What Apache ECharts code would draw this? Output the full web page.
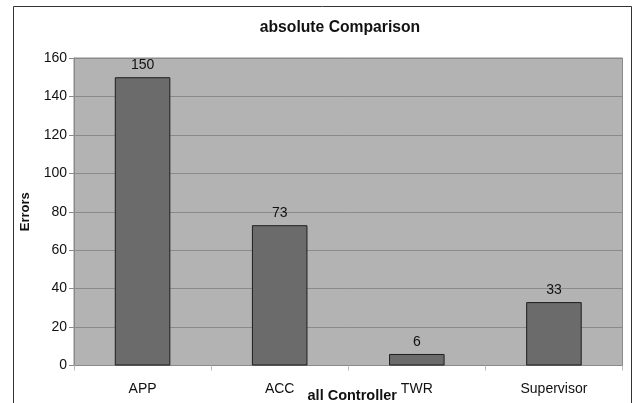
<!DOCTYPE html>
<html>
<head>
<meta charset="utf-8">
<script src="https://cdn.jsdelivr.net/npm/echarts@6/dist/echarts.min.js"></script>
<style>
  html, body { margin: 0; padding: 0; background: #fff; }
  #chart { width: 633px; height: 403px; }
</style>
</head>
<body>
<div id="chart"></div>
<script>
// Error counts per controller group
const categories = ['APP', 'ACC', 'TWR', 'Supervisor'];
const errors = [150, 73, 6, 33];
const yTicks = { min: 0, max: 160, interval: 20 };

const FONT = '"Liberation Sans", Arial, sans-serif';

const chart = echarts.init(document.getElementById('chart'), null, { renderer: 'canvas' });

chart.setOption({
  animation: false,
  backgroundColor: '#ffffff',
  title: {
    text: 'absolute Comparison',
    left: 335,
    textAlign: 'center',
    top: 15,
    textStyle: { fontFamily: FONT, fontSize: 15.7, fontWeight: 'bold', color: '#111' }
  },
  graphic: [{
    type: 'rect',
    shape: { x: 13.5, y: 6.5, width: 618, height: 420 },
    style: { fill: 'none', stroke: '#333', lineWidth: 1 },
    silent: true,
    z: 100
  }],
  grid: {
    left: 74,
    right: 10.5,
    top: 58,
    bottom: 37.5,
    outerBoundsMode: 'none',
    containLabel: false,
    show: true,
    backgroundColor: '#b3b3b3',
    borderColor: '#8a8a8a',
    borderWidth: 1
  },
  xAxis: {
    type: 'category',
    data: categories,
    name: 'all Controller',
    nameLocation: 'middle',
    nameGap: 23,
    nameMoveOverlap: false,
    nameTextStyle: { fontFamily: FONT, fontSize: 14.5, fontWeight: 'bold', color: '#111', padding: [0, 0, 0, 8] },
    axisLine: { lineStyle: { color: '#8a8a8a', width: 1 } },
    axisTick: { show: true, length: 5, alignWithLabel: false, lineStyle: { color: '#bbbbbb' } },
    axisLabel: { fontFamily: FONT, fontSize: 14, color: '#111', margin: 17 }
  },
  yAxis: {
    type: 'value',
    min: yTicks.min,
    max: yTicks.max,
    interval: yTicks.interval,
    name: 'Errors',
    nameLocation: 'middle',
    nameGap: 42,
    nameMoveOverlap: false,
    nameTextStyle: { fontFamily: FONT, fontSize: 13, fontWeight: 'bold', color: '#111' },
    axisLine: { show: true, lineStyle: { color: '#8a8a8a', width: 1 } },
    axisTick: { show: true, length: 5, lineStyle: { color: '#8a8a8a' } },
    axisLabel: { fontFamily: FONT, fontSize: 14, color: '#111', margin: 7 },
    splitLine: { show: true, lineStyle: { color: '#8a8a8a', width: 1 } }
  },
  series: [{
    type: 'bar',
    data: errors,
    barWidth: '40.5%',
    itemStyle: { color: '#6b6b6b', borderColor: '#1e1e1e', borderWidth: 1 },
    label: {
      show: true,
      position: 'top',
      distance: 5,
      fontFamily: FONT,
      fontSize: 14,
      color: '#111'
    }
  }]
});
</script>
</body>
</html>
